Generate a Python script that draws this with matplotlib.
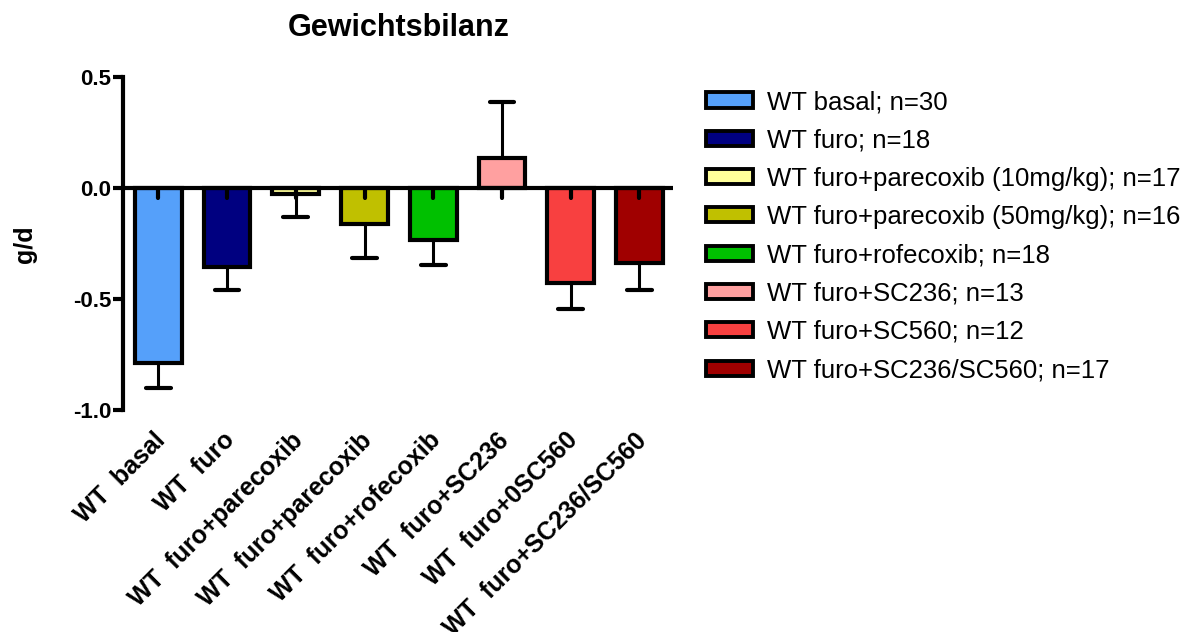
import matplotlib
matplotlib.use('Agg')
import matplotlib.pyplot as plt
import matplotlib.transforms as mtransforms
from matplotlib.patches import Rectangle

plt.rcParams['font.family'] = ['Liberation Sans', 'DejaVu Sans']

# data
groups = ['WT  basal', 'WT  furo', 'WT  furo+parecoxib', 'WT  furo+parecoxib',
          'WT  furo+rofecoxib', 'WT  furo+SC236', 'WT  furo+0SC560',
          'WT  furo+SC236/SC560']
legend_labels = ['WT basal; n=30', 'WT furo; n=18',
                 'WT furo+parecoxib (10mg/kg); n=17',
                 'WT furo+parecoxib (50mg/kg); n=16',
                 'WT furo+rofecoxib; n=18', 'WT furo+SC236; n=13',
                 'WT furo+SC560; n=12', 'WT furo+SC236/SC560; n=17']
means = [-0.79, -0.357, -0.028, -0.165, -0.236, 0.135, -0.427, -0.34]
sems = [0.11, 0.103, 0.105, 0.149, 0.11, 0.251, 0.119, 0.122]
colors = ['#55A0FA', '#000080', '#FFFF99', '#C0C000', '#00C000',
          '#FFA0A0', '#F84040', '#A00000']

W, H = 1195, 632
fig = plt.figure(figsize=(W / 100, H / 100), dpi=100)
ax = fig.add_axes([122.7 / W, 1 - 410 / H, (673 - 122.7) / W, (410 - 76.7) / H])

x = list(range(len(means)))
ax.bar(x, means, width=0.68, color=colors, edgecolor='black',
       linewidth=3.0, zorder=2)

# error bars only on the side away from zero
for xi, m, s in zip(x, means, sems):
    end = m + s if m > 0 else m - s
    ax.plot([xi, xi], [m, end], color='black', lw=2.2, zorder=1,
            solid_capstyle='butt')
    ax.plot([xi - 0.18, xi + 0.18], [end, end], color='black', lw=3.0,
            zorder=1, solid_capstyle='round')
    # the short stub GraphPad draws below the baseline
    ax.plot([xi, xi], [0, -0.046], color='black', lw=3.0, zorder=4,
            solid_capstyle='round')

ax.axhline(0, color='black', lw=3.0, zorder=3, solid_capstyle='round')

ax.set_xlim(-0.52, 7.49)
ax.set_ylim(-1.0, 0.5)
ax.set_yticks([-1.0, -0.5, 0.0, 0.5])
ax.set_yticklabels(['-1.0', '-0.5', '0.0', '0.5'], fontsize=16,
                   fontweight='bold')
ax.tick_params(axis='y', direction='out', length=7, width=3, pad=1)
for sp in ['top', 'right', 'bottom']:
    ax.spines[sp].set_visible(False)
ax.spines['left'].set_linewidth(3)

ax.set_xticks(x)
ax.set_xticklabels(groups, rotation=45, ha='right', va='top',
                   rotation_mode='anchor', fontsize=18, fontweight='bold')
ax.tick_params(axis='x', length=0, pad=13)
offset = mtransforms.ScaledTranslation(-5 / 100, 0, fig.dpi_scale_trans)
for lab in ax.get_xticklabels():
    lab.set_transform(lab.get_transform() + offset)

fig.text(25 / W, 1 - 244 / H, 'g/d', rotation=90, ha='center', va='center',
         fontsize=18, fontweight='bold')

fig.text(399 / W, 1 - 28 / H, 'Gewichtsbilanz', ha='center', va='center',
         fontsize=22, fontweight='bold')

# legend drawn by hand to match the layout
for i, (lab, c) in enumerate(zip(legend_labels, colors)):
    yc = 100 + i * 38.3
    fig.add_artist(Rectangle((706 / W, 1 - (yc + 7.5) / H), 46.7 / W, 15 / H,
                             facecolor=c, edgecolor='black', linewidth=2.8,
                             transform=fig.transFigure))
    fig.text(767 / W, 1 - (yc + 9.2) / H, lab, ha='left', va='baseline',
             fontsize=18.5)

fig.savefig('out.png', dpi=100)
